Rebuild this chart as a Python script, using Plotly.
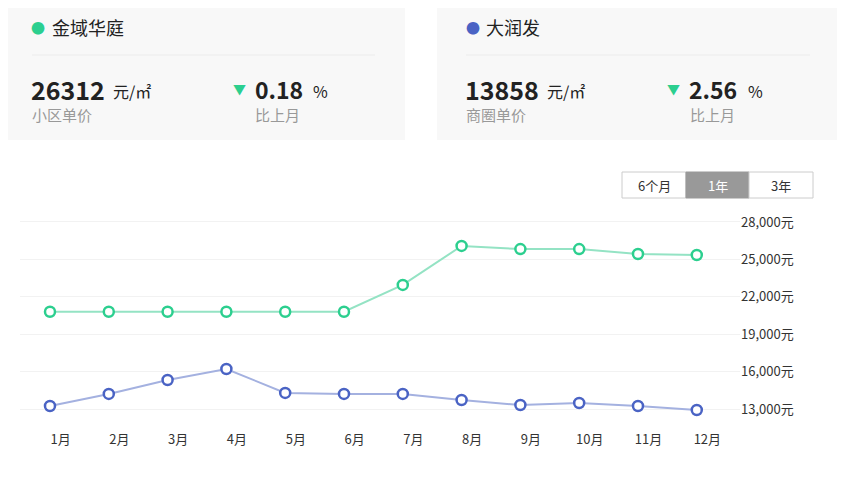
import plotly.graph_objects as go

months = ["1月","2月","3月","4月","5月","6月","7月","8月","9月","10月","11月","12月"]
community = [20800,20800,20800,20800,20800,20800,22950,26080,25830,25830,25430,25350]
district = [13240,14210,15330,16210,14290,14210,14210,13720,13320,13480,13240,12920]
yticks = [13000,16000,19000,22000,25000,28000]
ytick_text = ["13,000元","16,000元","19,000元","22,000元","25,000元","28,000元"]

W, H = 848, 484
OFF = 8
def px(x): return (x - OFF) / W
def py(y): return 1 - (y - OFF) / H

fig = go.Figure()
xs = list(range(len(months)))
fig.add_trace(go.Scatter(x=xs, y=community, mode="lines+markers",
    line=dict(color="#94e3c4", width=2),
    marker=dict(size=10, color="white", line=dict(color="#2ccf8f", width=2.5))))
fig.add_trace(go.Scatter(x=xs, y=district, mode="lines+markers",
    line=dict(color="#a4b1e0", width=2),
    marker=dict(size=10, color="white", line=dict(color="#4a63c4", width=2.5))))

shapes = [
    dict(type="rect", xref="paper", yref="paper", x0=px(0), x1=px(405), y0=py(140), y1=py(0), fillcolor="#f8f8f8", line_width=0, layer="below"),
    dict(type="rect", xref="paper", yref="paper", x0=px(437), x1=px(837), y0=py(140), y1=py(0), fillcolor="#f8f8f8", line_width=0, layer="below"),
    dict(type="line", xref="paper", yref="paper", x0=px(32), x1=px(375), y0=py(55), y1=py(55), line=dict(color="#ececec", width=1)),
    dict(type="line", xref="paper", yref="paper", x0=px(466), x1=px(810), y0=py(55), y1=py(55), line=dict(color="#ececec", width=1)),
    dict(type="rect", xref="paper", yref="paper", x0=px(622), x1=px(686), y0=py(198), y1=py(172), fillcolor="white", line=dict(color="#cccccc", width=1)),
    dict(type="rect", xref="paper", yref="paper", x0=px(686), x1=px(749), y0=py(198), y1=py(172), fillcolor="#999999", line=dict(color="#999999", width=1)),
    dict(type="rect", xref="paper", yref="paper", x0=px(749), x1=px(813), y0=py(198), y1=py(172), fillcolor="white", line=dict(color="#cccccc", width=1)),
]

F = "Noto Sans CJK SC, Noto Sans, sans-serif"
def ann(x, y, text, size, color="#222", bold=False, anchor="left"):
    t = f"<b>{text}</b>" if bold else text
    return dict(xref="paper", yref="paper", x=px(x), y=py(y), text=t, showarrow=False,
                xanchor=anchor, yanchor="middle", font=dict(size=size, color=color, family=F))

anns = [
    ann(29, 27, "●", 14, "#2ccf8f"), ann(50, 27, "金域华庭", 18),
    ann(29, 89, "26312", 25, bold=True), ann(111, 91, "元/㎡", 16),
    ann(30, 114, "小区单价", 15, "#999"),
    ann(231, 88, "▼", 13, "#2ccf8f"), ann(253, 89, "0.18", 23, bold=True), ann(311, 91, "%", 16),
    ann(253, 114, "比上月", 15, "#999"),
    ann(464, 27, "●", 14, "#4a63c4"), ann(484, 27, "大润发", 18),
    ann(463, 89, "13858", 25, bold=True), ann(545, 91, "元/㎡", 16),
    ann(464, 114, "商圈单价", 15, "#999"),
    ann(665, 88, "▼", 13, "#2ccf8f"), ann(687, 89, "2.56", 23, bold=True), ann(746, 91, "%", 16),
    ann(688, 114, "比上月", 15, "#999"),
    ann(654, 185, "6个月", 13, "#333", anchor="center"),
    ann(717.5, 185, "1年", 13, "white", anchor="center"),
    ann(781, 185, "3年", 13, "#333", anchor="center"),
]

fig.update_layout(
    width=W, height=H, margin=dict(l=0, r=0, t=0, b=0),
    paper_bgcolor="white", plot_bgcolor="white", showlegend=False,
    shapes=shapes, annotations=anns, font=dict(family=F),
    xaxis=dict(domain=[px(20), px(740)], range=[-0.51, 11.735],
               tickvals=[i + 0.18 for i in xs], ticktext=months,
               showgrid=False, zeroline=False, showline=False, ticks="",
               tickfont=dict(size=13, color="#333")),
    yaxis=dict(domain=[py(430), py(210)], range=[11316, 28962], side="right",
               tickvals=yticks, ticktext=ytick_text, showgrid=True, gridcolor="#f2f2f2",
               zeroline=False, showline=False, ticks="",
               tickfont=dict(size=13, color="#333")),
)
fig.write_html("out.html")
